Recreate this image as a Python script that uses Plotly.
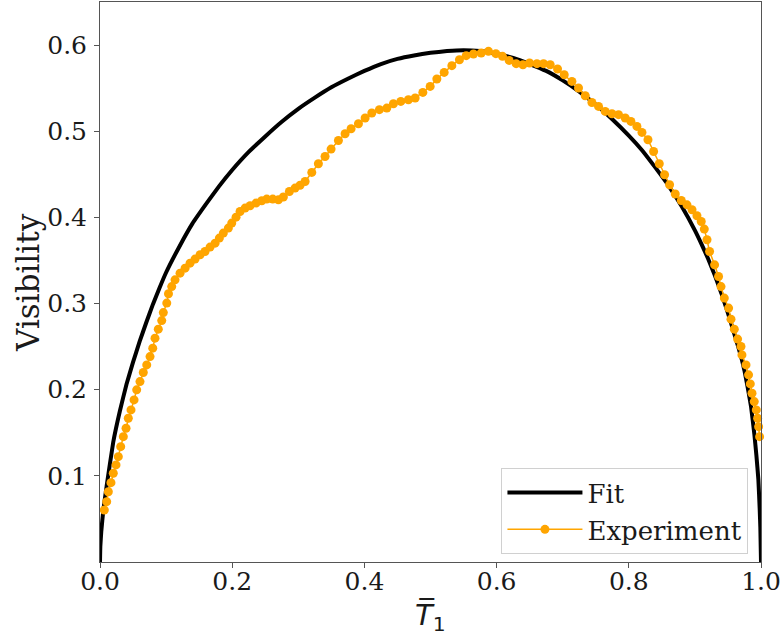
import plotly.graph_objects as go

# Fit curve
fit_x = [0.0, 0.0005, 0.002, 0.005, 0.01, 0.02, 0.03, 0.04, 0.05, 0.06, 0.07, 0.08, 0.09,
         0.10, 0.12, 0.14, 0.16, 0.18, 0.20, 0.225, 0.25, 0.275, 0.30, 0.325, 0.35, 0.375,
         0.40, 0.425, 0.45, 0.475, 0.50, 0.525, 0.55, 0.575, 0.60, 0.625, 0.65, 0.675,
         0.70, 0.725, 0.75, 0.775, 0.80, 0.82, 0.84, 0.86, 0.88, 0.90, 0.91, 0.92, 0.93,
         0.94, 0.95, 0.96, 0.97, 0.975, 0.98, 0.985, 0.99, 0.993, 0.996, 0.998, 0.999, 1.0]
fit_y = [0.0, 0.018, 0.036, 0.060, 0.088, 0.139, 0.175, 0.206, 0.232, 0.256, 0.278, 0.299,
         0.318, 0.336, 0.366, 0.393, 0.415, 0.436, 0.455, 0.476, 0.494, 0.511, 0.526,
         0.539, 0.551, 0.561, 0.570, 0.578, 0.584, 0.588, 0.591, 0.593, 0.594, 0.593,
         0.590, 0.585, 0.578, 0.570, 0.559, 0.546, 0.531, 0.514, 0.495, 0.478, 0.458,
         0.437, 0.413, 0.385, 0.369, 0.352, 0.333, 0.312, 0.289, 0.264, 0.238, 0.222,
         0.202, 0.180, 0.148, 0.124, 0.096, 0.062, 0.040, 0.0]

exp_x = [0.0065, 0.0101, 0.0126, 0.0166, 0.0201, 0.0242, 0.0277, 0.0313, 0.0353, 0.0394,
         0.0428, 0.0469, 0.0515, 0.0555, 0.0605, 0.0655, 0.0707, 0.0757, 0.0798, 0.0832,
         0.0882, 0.0934, 0.0958, 0.1010, 0.1036, 0.1085, 0.1135, 0.1211, 0.1287, 0.1362,
         0.1438, 0.1514, 0.1589, 0.1665, 0.1741, 0.1806, 0.1866, 0.1942, 0.1993, 0.2058,
         0.2119, 0.2195, 0.2270, 0.2361, 0.2447, 0.2523, 0.2614, 0.2699, 0.2774, 0.2865,
         0.2951, 0.3027, 0.3103, 0.3204, 0.3304, 0.3405, 0.3496, 0.3607, 0.3708, 0.3799,
         0.3910, 0.4011, 0.4112, 0.4227, 0.4339, 0.4439, 0.4551, 0.4666, 0.4768, 0.4884,
         0.4995, 0.5096, 0.5207, 0.5323, 0.5438, 0.5540, 0.5650, 0.5767, 0.5877, 0.5989,
         0.6089, 0.6190, 0.6296, 0.6398, 0.6498, 0.6610, 0.6710, 0.6811, 0.6922, 0.7023,
         0.7139, 0.7239, 0.7341, 0.7442, 0.7542, 0.7643, 0.7745, 0.7845, 0.7946, 0.8032,
         0.8123, 0.8199, 0.8290, 0.8375, 0.8461, 0.8541, 0.8617, 0.8703, 0.8794, 0.8880,
         0.8956, 0.9031, 0.9096, 0.9142, 0.9183, 0.9222, 0.9298, 0.9358, 0.9395, 0.9445,
         0.9510, 0.9546, 0.9596, 0.9646, 0.9697, 0.9712, 0.9773, 0.9812, 0.9838, 0.9864,
         0.9898, 0.9929, 0.9949, 0.9964, 0.9979]
exp_y = [0.0604, 0.0700, 0.0816, 0.0921, 0.1030, 0.1127, 0.1223, 0.1339, 0.1455, 0.1553,
         0.1669, 0.1765, 0.1881, 0.1998, 0.2094, 0.2199, 0.2288, 0.2384, 0.2482, 0.2598,
         0.2703, 0.2802, 0.2895, 0.3005, 0.3113, 0.3197, 0.3275, 0.3353, 0.3411, 0.3469,
         0.3516, 0.3566, 0.3604, 0.3655, 0.3701, 0.3760, 0.3818, 0.3876, 0.3934, 0.4003,
         0.4068, 0.4108, 0.4135, 0.4166, 0.4193, 0.4212, 0.4212, 0.4204, 0.4236, 0.4301,
         0.4340, 0.4373, 0.4417, 0.4522, 0.4622, 0.4707, 0.4793, 0.4893, 0.4971, 0.5029,
         0.5087, 0.5153, 0.5211, 0.5250, 0.5269, 0.5319, 0.5346, 0.5366, 0.5386, 0.5451,
         0.5520, 0.5606, 0.5683, 0.5761, 0.5830, 0.5877, 0.5897, 0.5908, 0.5927, 0.5900,
         0.5869, 0.5822, 0.5784, 0.5772, 0.5792, 0.5784, 0.5784, 0.5772, 0.5722, 0.5656,
         0.5578, 0.5502, 0.5412, 0.5334, 0.5288, 0.5230, 0.5203, 0.5192, 0.5153, 0.5114,
         0.5056, 0.4986, 0.4901, 0.4765, 0.4622, 0.4495, 0.4379, 0.4271, 0.4196, 0.4146,
         0.4088, 0.4019, 0.3952, 0.3864, 0.3740, 0.3604, 0.3449, 0.3314, 0.3197, 0.3063,
         0.2947, 0.2819, 0.2703, 0.2587, 0.2501, 0.2404, 0.2288, 0.2172, 0.2067, 0.1959,
         0.1862, 0.1765, 0.1669, 0.1571, 0.1455]

x_ticks = [0.0, 0.2, 0.4, 0.6, 0.8, 1.0]
x_tick_labels = ["0.0", "0.2", "0.4", "0.6", "0.8", "1.0"]
y_ticks = [0.1, 0.2, 0.3, 0.4, 0.5, 0.6]
y_tick_labels = ["0.1", "0.2", "0.3", "0.4", "0.5", "0.6"]

SERIF = "DejaVu Serif"
TXT = "#1a1a1a"

fig = go.Figure()
fig.add_trace(go.Scatter(x=fit_x, y=fit_y, mode="lines", name="Fit",
                         line=dict(color="black", width=4, shape="spline", smoothing=0.3)))
fig.add_trace(go.Scatter(x=exp_x, y=exp_y, mode="lines+markers", name="Experiment",
                         line=dict(color="#FFA500", width=1.5),
                         marker=dict(color="#FFA500", size=9),
                         cliponaxis=False))

axis_common = dict(showgrid=False, zeroline=False, showline=True, linecolor="#555",
                   linewidth=1, mirror=True, ticks="outside", ticklen=5, tickwidth=1,
                   tickcolor="#555", automargin=False,
                   tickfont=dict(family=SERIF, size=25, color=TXT))

fig.update_layout(
    width=784, height=640,
    margin=dict(l=100, r=23, t=2, b=78),
    paper_bgcolor="white", plot_bgcolor="white",
    font=dict(family=SERIF, color=TXT),
    xaxis=dict(range=[0, 1.0], tickvals=x_ticks, ticktext=x_tick_labels,
               ticklabelstandoff=-8, **axis_common),
    yaxis=dict(range=[0, 0.65], tickvals=y_ticks, ticktext=y_tick_labels,
               ticklabelstandoff=2, **axis_common),
    legend=dict(x=0.981, y=0.014, xanchor="right", yanchor="bottom",
                bgcolor="rgba(255,255,255,0.8)", bordercolor="#d0d0d0", borderwidth=1,
                font=dict(family=SERIF, size=26, color=TXT), itemwidth=75,
                tracegroupgap=0),
    showlegend=True,
    annotations=[
        dict(text="<i>T\u0305</i><sub>1</sub>", xref="paper", yref="paper",
             x=0.5, y=-0.098, xanchor="center", yanchor="middle", showarrow=False,
             font=dict(family="DejaVu Sans", size=29, color=TXT)),
        dict(text="Visibility", xref="paper", yref="paper", textangle=-90,
             x=-0.109, y=0.5, xanchor="center", yanchor="middle", showarrow=False,
             font=dict(family=SERIF, size=31, color=TXT)),
    ],
)

fig.write_html("out.html", config={"displayModeBar": False},
               post_script="document.body.style.margin='0px';")
